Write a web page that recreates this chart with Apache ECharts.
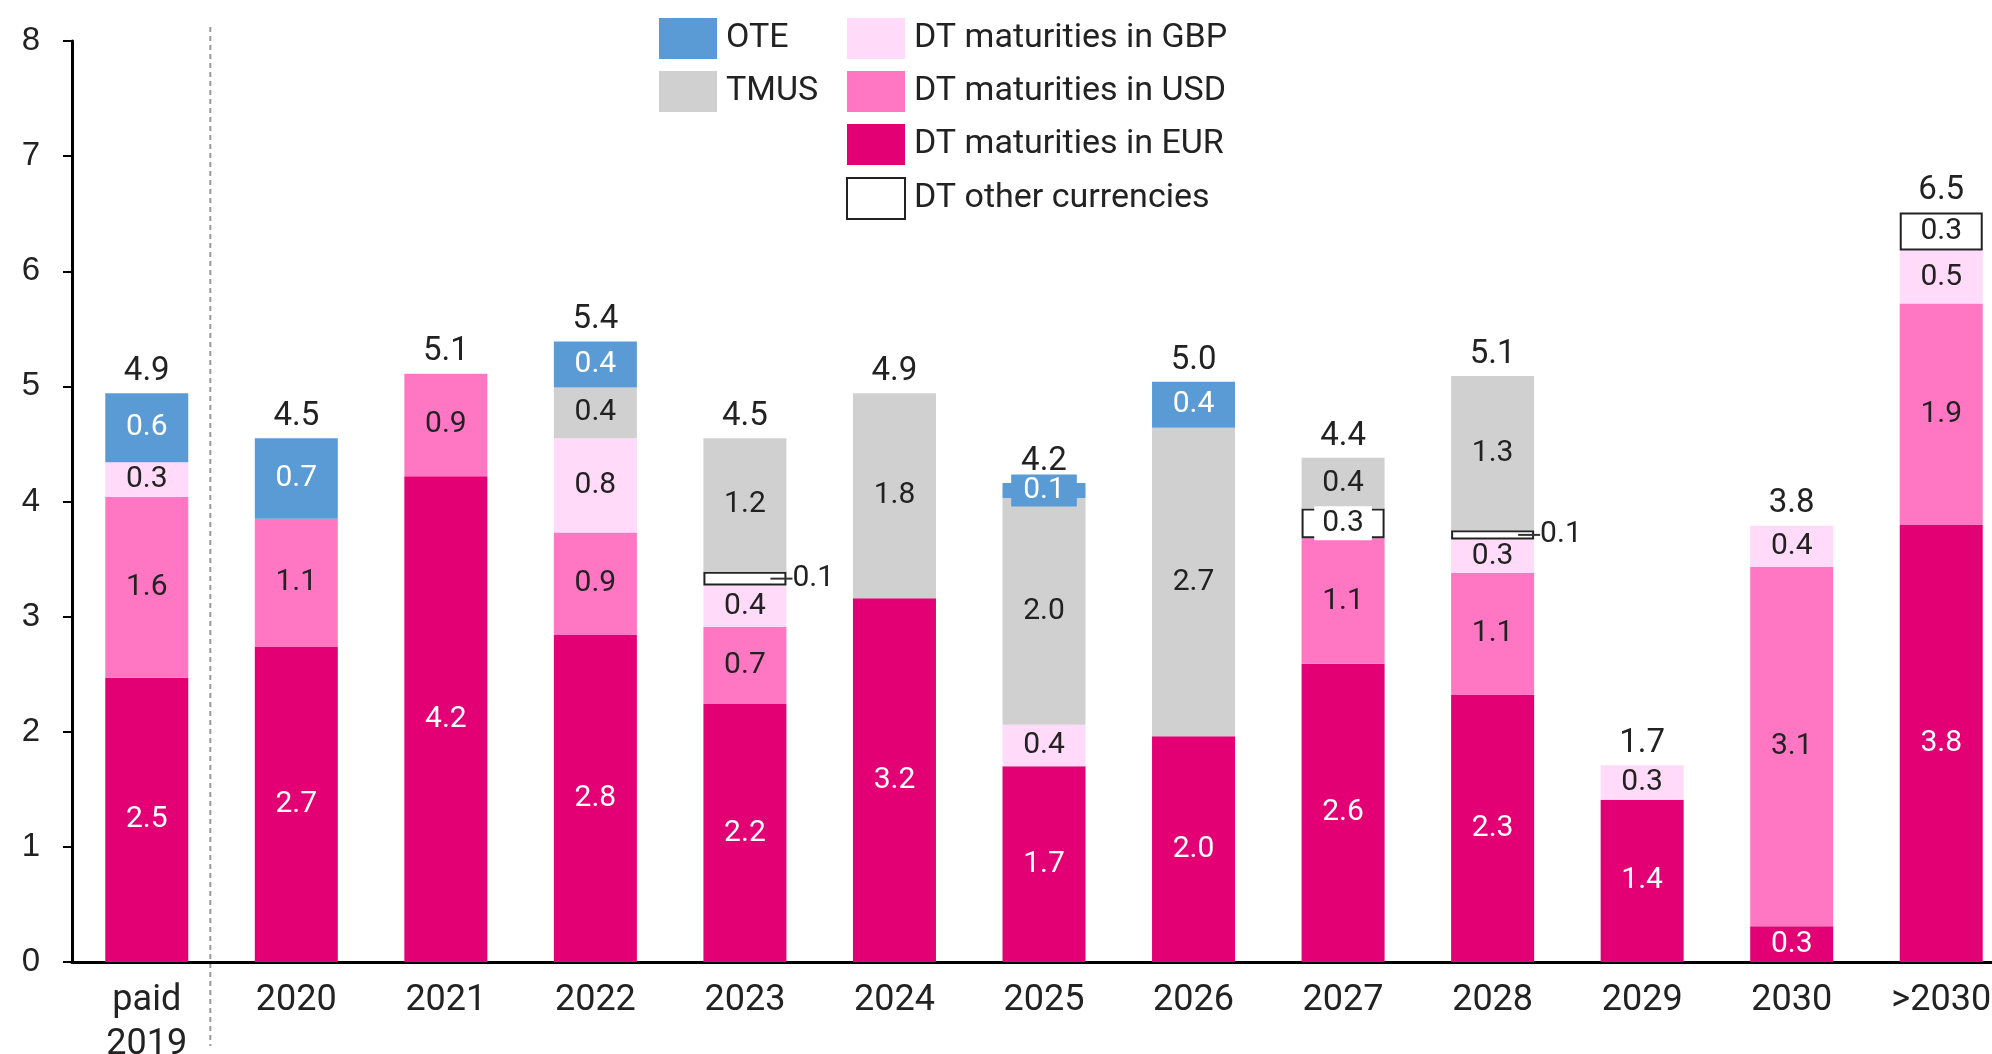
<!DOCTYPE html>
<html>
<head>
<meta charset="utf-8">
<script src="https://cdn.jsdelivr.net/npm/echarts@6/dist/echarts.min.js"></script>
<style>
  html, body { margin: 0; padding: 0; background: #fff; overflow: hidden; }
  #main { width: 2016px; height: 1054px; }
</style>
</head>
<body>
<div id="main"></div>
<script>
// categories and series values
var categories = ['paid\n2019', '2020', '2021', '2022', '2023', '2024', '2025', '2026', '2027', '2028', '2029', '2030', '>2030'];
var eur   = [2.47, 2.74, 4.22, 2.84, 2.24, 3.16, 1.70, 1.96, 2.59, 2.32, 1.41, 0.31, 3.80];
var usd   = [1.57, 1.11, 0.89, 0.89, 0.67, null, null, null, 1.09, 1.06, null, 3.12, 1.92];
var gbp   = [0.30, null, null, 0.82, 0.36, null, 0.36, null, null, 0.29, 0.30, 0.36, 0.46];
var other = [null, null, null, null, 0.12, null, null, null, 0.26, 0.08, null, null, 0.33];
var tmus  = [null, null, null, 0.44, 1.16, 1.78, 1.97, 2.68, 0.44, 1.34, null, null, null];
var ote   = [0.60, 0.70, null, 0.40, null, null, 0.13, 0.40, null, null, null, null, null];
var totals = [4.9, 4.5, 5.1, 5.4, 4.5, 4.9, 4.2, 5.0, 4.4, 5.1, 1.7, 3.8, 6.5];
var yTicks = [0, 1, 2, 3, 4, 5, 6, 7, 8];

var narrow = "Roboto, 'Liberation Sans', sans-serif";
var wide = "'Liberation Sans', Arial, sans-serif";
var dark = '#222';

function fmt(p) {
    return p.value == null ? '' : Number(p.value).toFixed(1);
}

function makeSeries(name, values, color, labelColor, extra) {
    var data = values.map(function (v, i) {
        var item = { value: v };
        if (extra && extra.items && extra.items[i]) item.label = extra.items[i];
        return item;
    });
    var s = {
        name: name,
        type: 'bar',
        stack: 'debt',
        barWidth: 83,
        itemStyle: { color: color },
        label: {
            show: true,
            position: 'inside',
            color: labelColor,
            fontFamily: narrow,
            fontSize: 30,
            formatter: fmt
        },
        data: data
    };
    if (extra && extra.itemStyle) s.itemStyle = extra.itemStyle;
    return s;
}

var leader = {
    position: 'right',
    offset: [-16, 0],
    distance: 0,
    color: dark,
    formatter: function (p) { return '{ln|}' + Number(p.value).toFixed(1); },
    rich: { ln: { width: 22, height: 2, backgroundColor: '#333' } }
};

var series = [
    makeSeries('DT maturities in EUR', eur, '#e20074', '#fff'),
    makeSeries('DT maturities in USD', usd, '#ff77c2', dark),
    makeSeries('DT maturities in GBP', gbp, '#ffdaf9', dark),
    makeSeries('DT other currencies', other, '#fff', dark, {
        itemStyle: { color: '#fff', borderColor: '#222', borderWidth: 2 },
        items: { 4: leader, 8: { backgroundColor: '#fff', padding: [2, 8] }, 9: leader }
    }),
    makeSeries('TMUS', tmus, '#d0d0d0', dark),
    makeSeries('OTE', ote, '#5b9bd5', '#fff', {
        items: { 6: { backgroundColor: '#5b9bd5', padding: [1, 12] } }
    })
];

// totals on top of each stack
series.push({
    name: 'total',
    type: 'bar',
    stack: 'debt',
    barWidth: 83,
    silent: true,
    itemStyle: { color: 'transparent' },
    label: {
        show: true,
        position: 'top',
        distance: 5,
        color: dark,
        fontFamily: narrow,
        fontSize: 33,
        formatter: function (p) { return totals[p.dataIndex].toFixed(1); }
    },
    data: totals.map(function () { return 0; })
});

var legendBase = {
    orient: 'vertical',
    top: 13,
    icon: 'rect',
    itemWidth: 58,
    itemHeight: 41,
    itemGap: 12,
    selectedMode: false,
    textStyle: { fontFamily: narrow, fontSize: 34, color: dark, padding: [0, 0, 0, 4] }
};

var myChart = echarts.init(document.getElementById('main'));
var option = {
    animation: false,
    backgroundColor: '#fff',
    legend: [
        Object.assign({}, legendBase, { left: 654, data: ['OTE', 'TMUS'] }),
        Object.assign({}, legendBase, { left: 841, data: ['DT maturities in GBP', 'DT maturities in USD', 'DT maturities in EUR', 'DT other currencies'] })
    ],
    grid: { left: 72, right: 0, top: 41, bottom: 92, outerBoundsMode: 'none' },
    xAxis: {
        type: 'category',
        data: categories,
        axisLine: { lineStyle: { color: '#000', width: 3 } },
        axisTick: { show: false },
        axisLabel: {
            interval: 0,
            margin: 17,
            color: dark,
            fontFamily: narrow,
            fontSize: 36,
            lineHeight: 44
        }
    },
    yAxis: {
        type: 'value',
        min: yTicks[0],
        max: yTicks[yTicks.length - 1],
        interval: 1,
        axisLine: { show: true, lineStyle: { color: '#000', width: 3 } },
        axisTick: { show: true, length: 9, lineStyle: { color: '#000', width: 2 } },
        splitLine: { show: false },
        axisLabel: { margin: 32, color: dark, fontFamily: wide, fontSize: 33 }
    },
    series: series
};
myChart.setOption(option);

// dotted separator between "paid 2019" and the maturities
var x0 = myChart.convertToPixel({ xAxisIndex: 0 }, categories[0]);
var x1 = myChart.convertToPixel({ xAxisIndex: 0 }, categories[1]);
var xs = x0 + (x1 - x0) * 0.425;
var yTop = myChart.convertToPixel({ yAxisIndex: 0 }, 8) - 14;
myChart.setOption({
    graphic: [{
        type: 'line',
        shape: { x1: xs, y1: yTop, x2: xs, y2: 1046 },
        style: { stroke: '#999', lineWidth: 2, lineDash: [5, 4] },
        silent: true
    }]
});
</script>
</body>
</html>
